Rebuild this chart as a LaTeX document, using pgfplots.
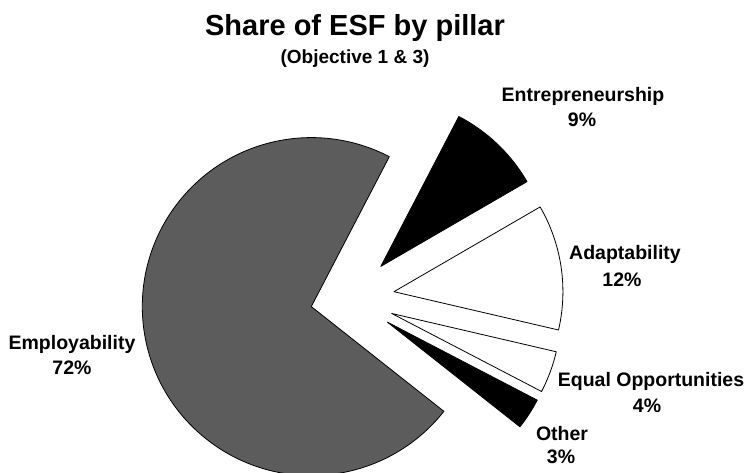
\documentclass[border=0pt]{standalone}
\usepackage{pgfplots}
\pgfplotsset{compat=1.18}
\usepackage{pgfplotstable}
\usepackage{fontspec}
\setmainfont{Liberation Sans}
\definecolor{piegray}{RGB}{92,92,92}

% pillar, share (%), explode distance (px)
\pgfplotstableread{
name value explode colour
Entrepreneurship 9 44 black
Adaptability 12 44 white
EqualOpportunities 4 44 white
Other 3 44 black
Employability 72 40 piegray
}\piedata

\newcommand\pieslice[1]{%
  \edef\tmpslice{\noexpand\filldraw[fill=\csname fc#1\endcsname, draw=black, line width=0.8bp, line join=round]
    (axis cs:\csname px#1\endcsname,\csname py#1\endcsname) -- ++(\csname sA#1\endcsname:\pieR bp)
    arc[start angle=\csname sA#1\endcsname, end angle=\csname sB#1\endcsname, radius=\pieR bp] -- cycle;}%
  \tmpslice}

\begin{document}
\begin{tikzpicture}
\def\Cx{350.4}\def\Cy{174.8}\def\pieR{169}
\gdef\cur{62.5}
\pgfplotsforeachungrouped \i in {0,...,4}{%
  \pgfplotstablegetelem{\i}{value}\of\piedata\let\pv\pgfplotsretval
  \pgfplotstablegetelem{\i}{explode}\of\piedata\let\pd\pgfplotsretval
  \pgfplotstablegetelem{\i}{colour}\of\piedata\let\pc\pgfplotsretval
  \pgfmathsetmacro\aA{\cur}%
  \pgfmathsetmacro\aB{\cur-3.6*\pv}%
  \pgfmathsetmacro\am{(\aA+\aB)/2}%
  \pgfmathsetmacro\ppx{\Cx+\pd*cos(\am)}%
  \pgfmathsetmacro\ppy{\Cy+\pd*sin(\am)}%
  \expandafter\xdef\csname sA\i\endcsname{\aA}%
  \expandafter\xdef\csname sB\i\endcsname{\aB}%
  \expandafter\xdef\csname px\i\endcsname{\ppx}%
  \expandafter\xdef\csname py\i\endcsname{\ppy}%
  \expandafter\xdef\csname fc\i\endcsname{\pc}%
  \xdef\cur{\aB}%
}
\begin{axis}[name=ax, at={(0,0)}, anchor=south west, scale only axis,
  width=747bp, height=473bp, xmin=0, xmax=747, ymin=0, ymax=473,
  hide axis, clip=true]
\pgfplotsinvokeforeach{0,...,4}{\pieslice{#1}}
\node[anchor=base, font=\fontsize{29bp}{34bp}\selectfont\bfseries] at (axis cs:355,437) {Share of ESF by pillar};
\node[anchor=base, font=\fontsize{19bp}{23bp}\selectfont\bfseries] at (axis cs:355,409) {(Objective 1 \& 3)};
\tikzset{lab/.style={anchor=base, font=\fontsize{19.5bp}{23bp}\selectfont\bfseries, inner sep=0pt}}
\node[lab] at (axis cs:72,123) {Employability};
\node[lab] at (axis cs:72,98) {72\%};
\node[lab] at (axis cs:583,371) {Entrepreneurship};
\node[lab] at (axis cs:582,346) {9\%};
\node[lab] at (axis cs:625,213) {Adaptability};
\node[lab] at (axis cs:622,186) {12\%};
\node[lab] at (axis cs:651,86) {Equal Opportunities};
\node[lab] at (axis cs:647,60) {4\%};
\node[lab] at (axis cs:562,32) {Other};
\node[lab] at (axis cs:561,10) {3\%};
\end{axis}
\pgfresetboundingbox
\useasboundingbox (ax.south west) rectangle (ax.north east);
\end{tikzpicture}
\end{document}
